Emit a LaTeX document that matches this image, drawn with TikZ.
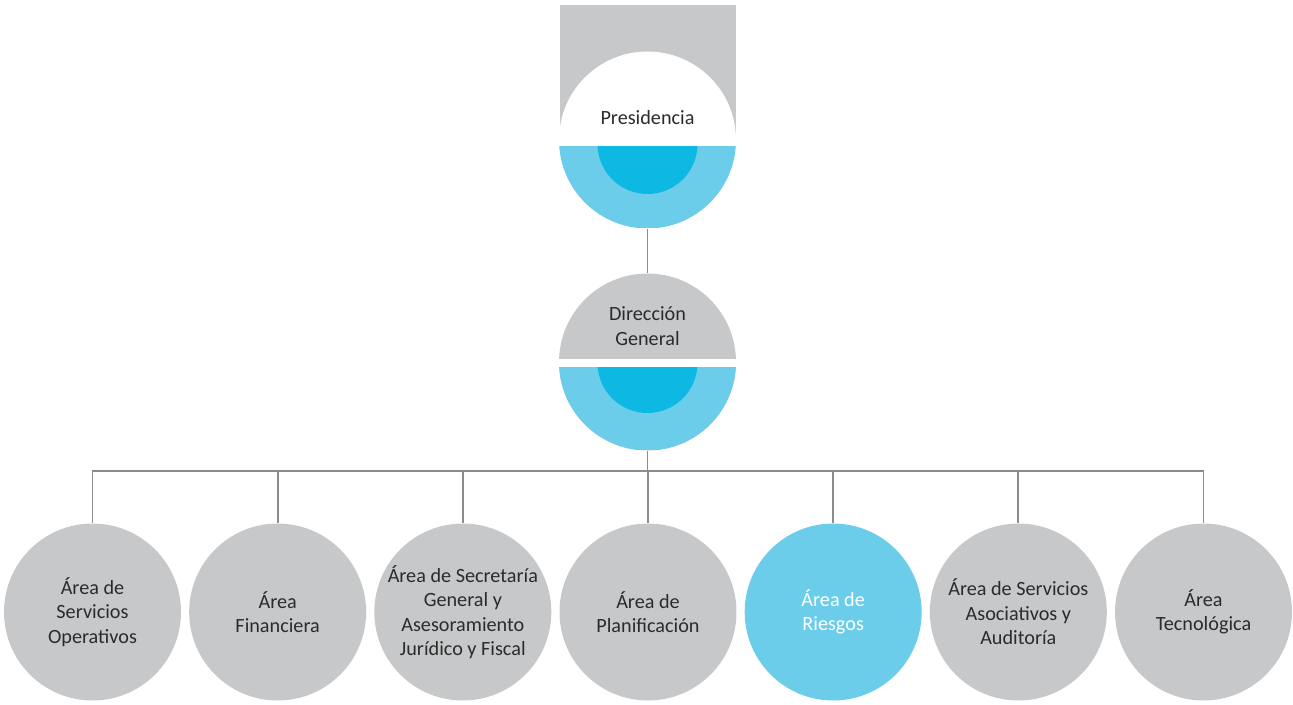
\documentclass[tikz,border=0pt]{standalone}
\usepackage{fontspec}
\setmainfont{Carlito}
\usetikzlibrary{positioning,calc}
\definecolor{orggray}{HTML}{C6C8C9}
\definecolor{lineg}{HTML}{8C8C8C}
\definecolor{lightblue}{HTML}{6BCDEA}
\definecolor{deepblue}{HTML}{0DB8E2}
\definecolor{txt}{HTML}{2B2B2B}
\tikzset{
  unit/.style={circle, minimum size=3.54cm, inner sep=0pt, text=txt, align=center,
    font=\fontsize{11.5}{13.9}\selectfont},
  grayunit/.style={unit, fill=orggray},
  blueunit/.style={unit, fill=lightblue, text=white},
  lbl/.style={text=txt, align=center, font=\fontsize{11.5}{13.9}\selectfont},
  conn/.style={draw=lineg, line width=1.1pt},
  %% #1 top of the white band, #2 where the blue starts, #3 centre of the inner disc
  blueseg/.style n args={3}{path picture={
      \fill[white] ([yshift=#1]path picture bounding box.west) rectangle ([yshift=#2]path picture bounding box.east);
      \fill[lightblue] ([yshift=#2]path picture bounding box.west) rectangle (path picture bounding box.south east);
      \begin{scope}
        \clip ([yshift=#2]path picture bounding box.west) rectangle (path picture bounding box.south east);
        \fill[deepblue] ([yshift=#3]path picture bounding box.center) circle (1cm);
      \end{scope}
    }},
}
\begin{document}
\begin{tikzpicture}[x=0.02cm, y=-0.02cm]
  \useasboundingbox (0,0) rectangle (1293,704);
  %% grey block behind the top disc
  \fill[orggray] (559.5,5) rectangle (735.5,146);
  \node[unit, fill=white, blueseg={-0.12cm}{-0.12cm}{-0.08cm}] (pres) at (647.5,140) {};
  \node[lbl] (prestext) at ([yshift=0.44cm]pres.center) {Presidencia};
  \node[grayunit, blueseg={0.06cm}{-0.10cm}{-0.02cm}] (dg) at (647.5,362) {};
  \node[lbl] (dgtext) at ([yshift=0.72cm]dg.center) {Dirección\\General};
  %% the seven areas
  \node[grayunit] (servop) at (92.5,612) {Área de\\Servicios\\Operativos};
  \node[grayunit, right=0.15cm of servop] (finan) {Área\\Financiera};
  \node[grayunit, right=0.15cm of finan] (secret) {Área de Secretaría\\General y\\Asesoramiento\\Jurídico y Fiscal};
  \node[grayunit, right=0.15cm of secret] (planif) {Área de\\Planificación};
  \node[blueunit, right=0.15cm of planif] (riesgos) {Área de\\Riesgos};
  \node[grayunit, right=0.15cm of riesgos] (servas) {Área de Servicios\\Asociativos y\\Auditoría};
  \node[grayunit, right=0.15cm of servas] (tecno) {Área\\Tecnológica};
  %% connectors
  \draw[conn] (pres.south) -- (dg.north);
  \draw[conn] (dg.south) -- ++(0,-0.41cm) coordinate (bus);
  \foreach \n in {servop,finan,secret,planif,riesgos,servas,tecno}
    \draw[conn] (bus) -| (\n.north);
\end{tikzpicture}
\end{document}
